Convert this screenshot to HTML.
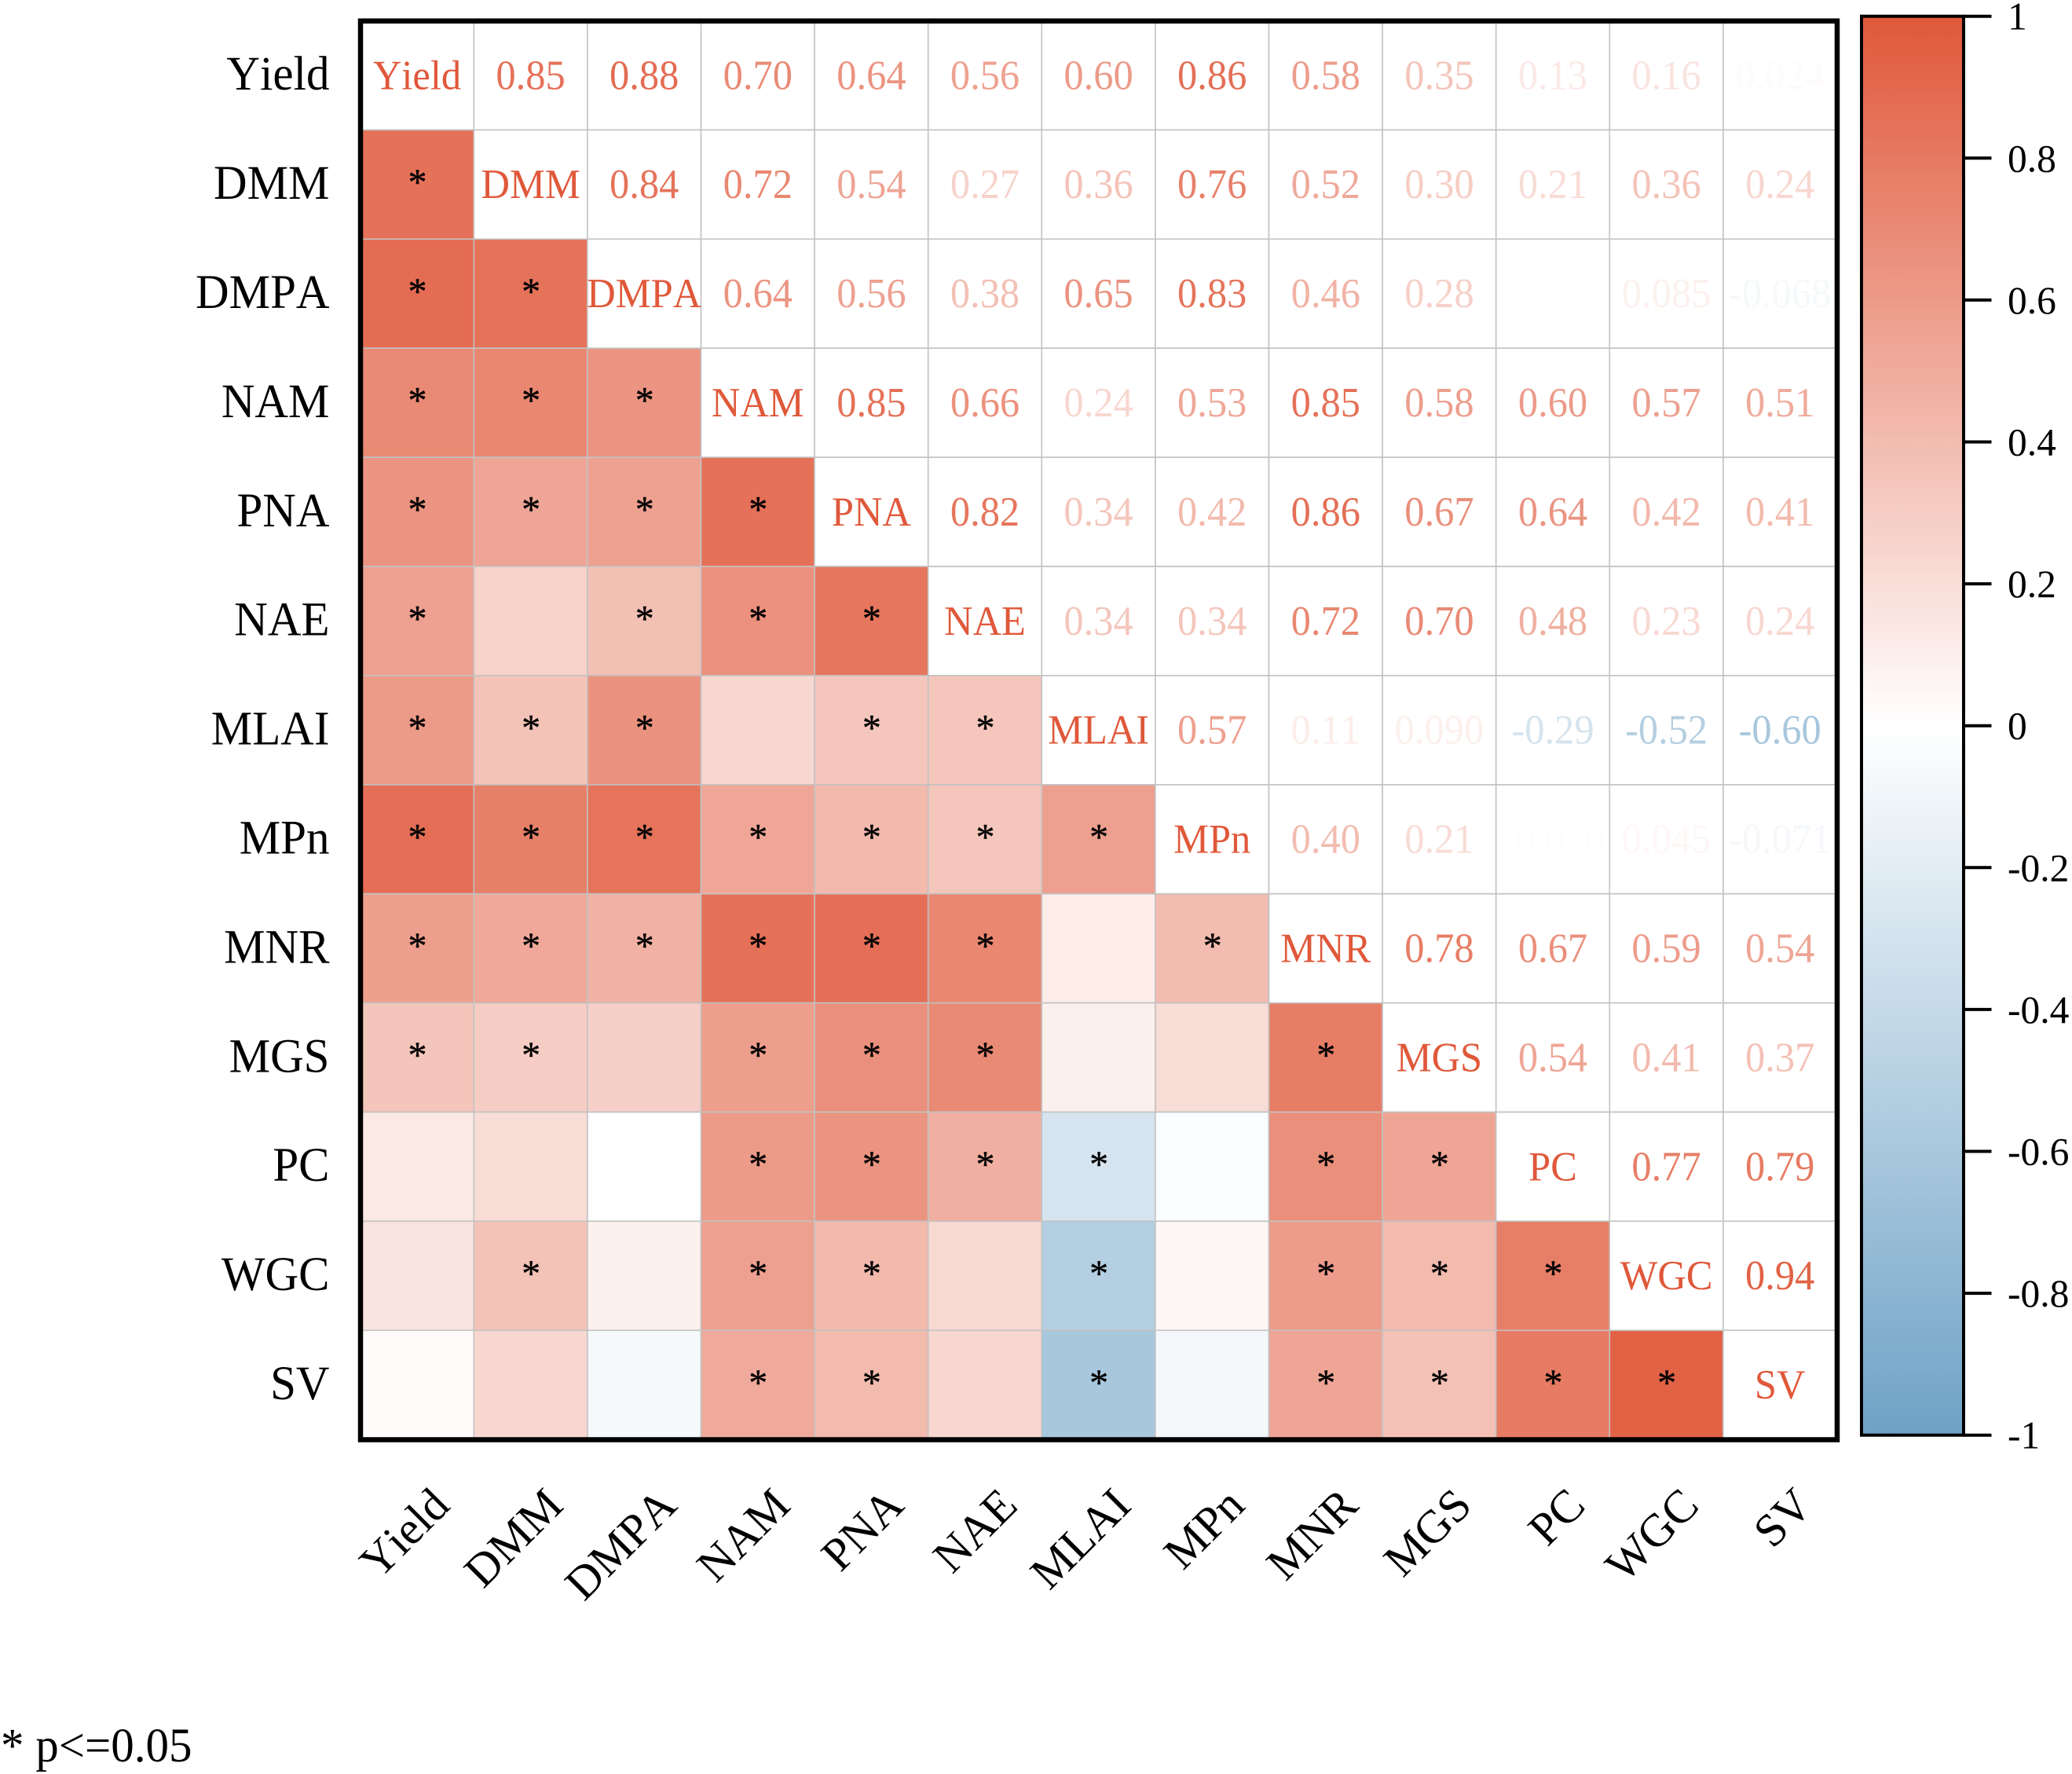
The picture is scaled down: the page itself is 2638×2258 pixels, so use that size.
<!DOCTYPE html>
<html lang="en">
<head>
<meta charset="utf-8">
<title>Correlation heatmap</title>
<style>
  html, body { margin: 0; padding: 0; background: #ffffff; }
  svg { display: block; }
  text { font-family: "Liberation Serif", "Times New Roman", serif; font-kerning: none; }
</style>
</head>
<body>
<svg id="chart" xmlns="http://www.w3.org/2000/svg" width="2638" height="2258" viewBox="0 0 2638 2258">
  <defs>
    <linearGradient id="cbar-gradient" x1="0" y1="0" x2="0" y2="1">
      <stop offset="0" stop-color="#e0583a"/>
      <stop offset="0.5" stop-color="#ffffff"/>
      <stop offset="1" stop-color="#6ea2c6"/>
    </linearGradient>
  </defs>
  <rect x="0" y="0" width="2638" height="2258" fill="#ffffff"/>
  <g id="cells"></g>
  <g id="cell-text"></g>
  <g id="y-labels"></g>
  <g id="x-labels"></g>
  <rect x="459" y="26.7" width="1880" height="1805.8" fill="none" stroke="#000000" stroke-width="6.5"/>
  <rect x="2370" y="20.7" width="130" height="1806" fill="url(#cbar-gradient)"/>
  <rect x="2370" y="20.7" width="130" height="1806" fill="none" stroke="#000000" stroke-width="4"/>
  <g id="cbar-ticks"></g>
  <text transform="translate(1,2242) scale(1,1.04)" font-size="59" fill="#000000">* p&lt;=0.05</text>
</svg>
<script>
const variables = ["Yield","DMM","DMPA","NAM","PNA","NAE","MLAI","MPn","MNR","MGS","PC","WGC","SV"];

// Upper-triangle correlations, one array per row, starting right of the diagonal.
const rowYield = [0.85,0.88,0.70,0.64,0.56,0.60,0.86,0.58,0.35,0.13,0.16,0.024];
const rowDMM   = [0.84,0.72,0.54,0.27,0.36,0.76,0.52,0.30,0.21,0.36,0.24];
const rowDMPA  = [0.64,0.56,0.38,0.65,0.83,0.46,0.28,0.002,0.085,-0.068];
const rowNAM   = [0.85,0.66,0.24,0.53,0.85,0.58,0.60,0.57,0.51];
const rowPNA   = [0.82,0.34,0.42,0.86,0.67,0.64,0.42,0.41];
const rowNAE   = [0.34,0.34,0.72,0.70,0.48,0.23,0.24];
const rowMLAI  = [0.57,0.11,0.090,-0.29,-0.52,-0.60];
const rowMPn   = [0.40,0.21,-0.020,0.045,-0.071];
const rowMNR   = [0.78,0.67,0.59,0.54];
const rowMGS   = [0.54,0.41,0.37];
const rowPC    = [0.77,0.79];
const rowWGC   = [0.94];
const upperRows = [rowYield,rowDMM,rowDMPA,rowNAM,rowPNA,rowNAE,rowMLAI,rowMPn,rowMNR,rowMGS,rowPC,rowWGC,[]];

// Significance markers for the lower triangle, one string per row (1 = star).
const significance = [
  "",
  "1",
  "11",
  "111",
  "1111",
  "10111",
  "111011",
  "1111111",
  "11111101",
  "110111001",
  "0001111011",
  "01011010111",
  "000110101111"
];

const colorbarTicks = ["1","0.8","0.6","0.4","0.2","0","-0.2","-0.4","-0.6","-0.8","-1"];
const colorbarTickValues = [1,0.8,0.6,0.4,0.2,0,-0.2,-0.4,-0.6,-0.8,-1];

const SVG_NS = "http://www.w3.org/2000/svg";
const GRID_X0 = 458.7, GRID_Y0 = 26.5, CELL_W = 144.6, CELL_H = 138.9;
const CBAR_TOP = 20.7, CBAR_BOTTOM = 1826.7;

function xScale(col) { return GRID_X0 + col * CELL_W; }
function yScale(row) { return GRID_Y0 + row * CELL_H; }
function cbarScale(value) { return CBAR_TOP + (1 - value) / 2 * (CBAR_BOTTOM - CBAR_TOP); }

function colorFor(value) {
  const hi = [224, 88, 58], lo = [110, 162, 198];
  const end = value >= 0 ? hi : lo;
  const t = Math.min(1, Math.abs(value));
  const c = end.map(function (e) { return Math.round(255 + (e - 255) * t); });
  return "rgb(" + c.join(",") + ")";
}
function valueAt(row, col) {
  if (row === col) return 1;
  const r = Math.min(row, col), c = Math.max(row, col);
  return upperRows[r][c - r - 1];
}
function make(tag, attrs, parent) {
  const el = document.createElementNS(SVG_NS, tag);
  Object.keys(attrs).forEach(function (k) { el.setAttribute(k, attrs[k]); });
  parent.appendChild(el);
  return el;
}

const cellsG = document.getElementById("cells");
const textG = document.getElementById("cell-text");
const yG = document.getElementById("y-labels");
const xG = document.getElementById("x-labels");
const ticksG = document.getElementById("cbar-ticks");
const n = variables.length;

for (let r = 0; r < n; r++) {
  for (let c = 0; c < n; c++) {
    const v = valueAt(r, c);
    const cell = make("rect", {
      x: xScale(c), y: yScale(r), width: CELL_W, height: CELL_H,
      fill: r > c ? colorFor(v) : "#ffffff", stroke: "#c2c2c2", "stroke-width": 1.6
    }, cellsG);
    
    

    const cx = xScale(c) + CELL_W / 2;
    const cy = yScale(r) + CELL_H / 2;
    if (r <= c) {
      const printed = r === c ? variables[r] : v.toPrecision(2);
      const isBlank = r !== c && Math.abs(v) < 0.01;
      if (!isBlank) {
        const t = make("text", {
          transform: "translate(" + cx + "," + (cy + 17.3) + ") scale(1,1.04)",
          "text-anchor": "middle", "font-size": 50.5, fill: colorFor(v)
        }, textG);
        t.textContent = printed;
        
        
      }
    } else if (significance[r][c] === "1") {
      const s = make("text", {
        x: cx + 0.5, y: cy + 13, "text-anchor": "middle", "font-size": 48, fill: "#000000",
        stroke: "#000000", "stroke-width": 0.4
      }, textG);
      s.textContent = "*";
      
      
    }
  }
}

variables.forEach(function (name, i) {
  const yl = make("text", {
    transform: "translate(419.5," + (yScale(i) + CELL_H / 2 + 18.2) + ") scale(1,1.04)",
    "text-anchor": "end", "font-size": 59, fill: "#000000"
  }, yG);
  yl.textContent = name;
  
  

  const ax = xScale(i) + CELL_W / 2 + 44;
  const xl = make("text", {
    transform: "translate(" + ax + ",1919) rotate(-45)",
    "text-anchor": "end", "font-size": 59, fill: "#000000"
  }, xG);
  xl.textContent = name;
  
  
});

colorbarTicks.forEach(function (label, i) {
  const y = cbarScale(colorbarTickValues[i]);
  const line = make("line", { x1: 2500, x2: 2535.5, y1: y, y2: y, stroke: "#000000", "stroke-width": 4 }, ticksG);
  
  
  const t = make("text", { x: 2556, y: y + 17, "font-size": 49.5, fill: "#000000" }, ticksG);
  t.textContent = label;
  
  
});
</script>
</body>
</html>
